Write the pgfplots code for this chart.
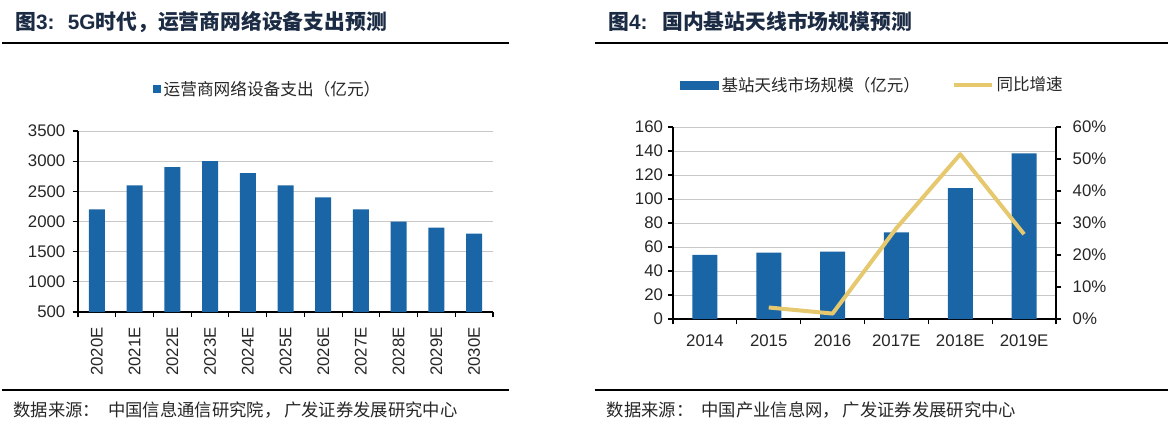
\documentclass[border=0pt]{standalone}
\usepackage{pgfplots}
\pgfplotsset{compat=1.18}
\usepackage{fontspec}
\setmainfont{Liberation Sans}
\newfontfamily\cjk{Noto Sans CJK SC}
\definecolor{barblue}{HTML}{1A65A5}
\definecolor{gold}{HTML}{E6C86E}
\definecolor{navy}{HTML}{1C2B44}
\definecolor{gridgray}{HTML}{C8C8C8}
\definecolor{txt}{HTML}{262626}
\pgfplotsset{
  base/.style={
    scale only axis, anchor=south west,
    /pgf/number format/assume math mode=true,
    /pgf/number format/1000 sep={},
    tick label style={font=\fontsize{12.6}{14}\selectfont, text=txt},
    axis line style={black, line width=0.9pt, -},
    tick style={black, line width=0.8pt},
    tick align=outside,
    major tick length=4pt, minor tick length=4pt,
    grid style={gridgray, line width=0.6pt},
  }
}
\begin{document}
\begin{tikzpicture}
\path[use as bounding box] (0,0) rectangle (876pt,-327pt);
% ---------- titles and rules ----------
\node[anchor=west, text=navy, font=\fontsize{15.6}{18}\selectfont\bfseries, inner sep=0] at (11.25pt,-16.5pt)
  {{\cjk 图}3:\hspace{10pt}5G{\cjk 时代，运营商网络设备支出预测}};
\node[anchor=west, text=navy, font=\fontsize{15.6}{18}\selectfont\bfseries, inner sep=0] at (456pt,-16.5pt)
  {{\cjk 图}4:\hspace{11pt}{\cjk 国内基站天线市场规模预测}};
\draw[black, line width=1.1pt] (1.5pt,-32.25pt) -- (382pt,-32.25pt);
\draw[black, line width=1.1pt] (446pt,-32.25pt) -- (876pt,-32.25pt);
\draw[black, line width=1.1pt] (1.5pt,-292.5pt) -- (382pt,-292.5pt);
\draw[black, line width=1.1pt] (446pt,-292.5pt) -- (876pt,-292.5pt);
\node[anchor=west, text=txt, font=\fontsize{13}{14}\selectfont\cjk, inner sep=0] at (10pt,-307.5pt)
  {数据来源：\hspace{6pt}中国信息通信研究院，\hspace{2pt}广发证券发展研究中心};
\node[anchor=west, text=txt, font=\fontsize{13}{14}\selectfont\cjk, inner sep=0] at (455pt,-307.5pt)
  {数据来源：\hspace{6pt}中国产业信息网，\hspace{2pt}广发证券发展研究中心};
% ---------- left chart ----------
\begin{axis}[base,
  at={(58.5pt,-234pt)}, width=311.25pt, height=135.75pt,
  ymin=500, ymax=3500, ytick={500,1000,...,3500},
  y tick label style={xshift=-2pt},
  xmin=-0.5, xmax=10.5, xtick={0,...,10},
  xticklabels={2020E,2021E,2022E,2023E,2024E,2025E,2026E,2027E,2028E,2029E,2030E},
  x tick label style={rotate=90, anchor=east},
  xticklabel shift=4pt,
  major x tick style={draw=none},
  minor xtick={-0.5,0.5,...,10.5},
  axis x line*=bottom, axis y line*=left,
  ymajorgrids,
  legend style={at={(0.458,1.232)}, anchor=center, draw=none, fill=none,
    font=\fontsize{12.5}{14}\selectfont\cjk, text=txt, inner sep=0pt},
]
\addplot[ybar, bar width=12pt, fill=barblue, draw=none,
  legend image code/.code={\fill[barblue] (0pt,-3pt) rectangle (6pt,3pt);}]
  coordinates {(0,2200)(1,2600)(2,2900)(3,3000)(4,2800)(5,2600)(6,2400)(7,2200)(8,2000)(9,1900)(10,1800)};
\addlegendentry{运营商网络设备支出（亿元）}
\end{axis}
% ---------- right chart ----------
\begin{axis}[base,
  at={(504.75pt,-239.25pt)}, width=287.25pt, height=144pt,
  ymin=0, ymax=160, ytick={0,20,...,160},
  xmin=-0.5, xmax=5.5, xtick={0,...,5},
  xticklabels={2014,2015,2016,2017E,2018E,2019E},
  xticklabel shift=4pt,
  major x tick style={draw=none},
  minor xtick={-0.5,0.5,...,5.5},
  axis x line*=bottom, axis y line*=left,
  ymajorgrids,
]
\addplot[ybar, bar width=18.75pt, fill=barblue, draw=none]
  coordinates {(0,53.4)(1,55.4)(2,56.2)(3,72.2)(4,109)(5,138)};
\end{axis}
\begin{axis}[base,
  at={(504.75pt,-239.25pt)}, width=287.25pt, height=144pt,
  ymin=0, ymax=60, ytick={0,10,...,60},
  yticklabel={\pgfmathprintnumber{\tick}\%},
  y tick label style={xshift=5pt},
  xmin=-0.5, xmax=5.5,
  axis x line=none, axis y line*=right,
  legend columns=2,
  legend style={at={(0.521,1.219)}, anchor=center, draw=none, fill=none,
    font=\fontsize{12.4}{14}\selectfont\cjk, text=txt, inner sep=0pt,
    /tikz/every even column/.append style={column sep=22pt}},
]
\addlegendimage{legend image code/.code={\fill[barblue] (0pt,-3pt) rectangle (29pt,3pt);}}
\addlegendentry{基站天线市场规模（亿元）}
\addplot[gold, line width=3pt, line join=round,
  legend image code/.code={\draw[gold, line width=3pt] (0pt,0pt) -- (28.5pt,0pt);}]
  coordinates {(1,3.6)(2,1.7)(3,28.4)(4,51.5)(5,26.5)};
\addlegendentry{同比增速}
\end{axis}
\end{tikzpicture}
\end{document}
